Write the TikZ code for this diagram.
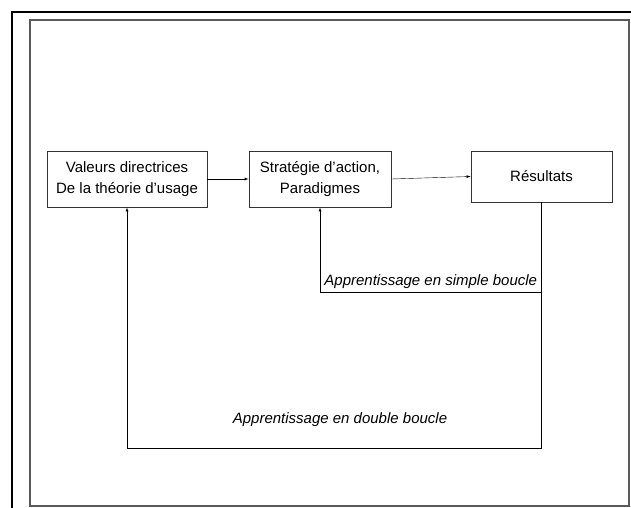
\documentclass[tikz,border=0pt]{standalone}
\usepackage{fontspec}
\setmainfont{Liberation Sans}
\usetikzlibrary{arrows}

\begin{document}
\begin{tikzpicture}[x=1pt, y=-1pt, >=latex,
    every node/.style={font=\fontsize{15}{20.5}\selectfont},
    box/.style={draw=black!80, line width=0.8pt, align=center, inner sep=0pt}]
    \useasboundingbox (0, 0) rectangle (631, 508);
    \draw [line width=2pt] (12, 508) -- (12, 12) -- (631, 12);
    \draw [gray!70!black, line width=1.3pt] (30, 20) rectangle (629, 506);

    \node [box, minimum width=160pt, minimum height=56pt] (val) at (127, 179) {Valeurs directrices\\De la théorie d’usage};
    \node [box, minimum width=142pt, minimum height=56pt] (strat) at (320, 179) {Stratégie d’action,\\Paradigmes};
    \node [box, minimum width=141pt, minimum height=51pt] (res) at (541.5, 176.5) {Résultats};
    \draw [->] (val) to (strat);
    \draw [->] (strat.east) to (res.west);

    \coordinate (c1) at (541.5, 292);
    \coordinate (c2) at (541.5, 448);
    \draw [->] (res.south) -- (c1) -| node [pos=.25, above, font=\fontsize{15}{18}\itshape] {Apprentissage en simple boucle} (strat.south);
    \draw [->] (res.south) -- (c2) -| (val.south);
    \node [font=\fontsize{15}{18}\itshape] (dbl) at (340, 420) {Apprentissage en double boucle};
  \end{tikzpicture}
\end{document}
